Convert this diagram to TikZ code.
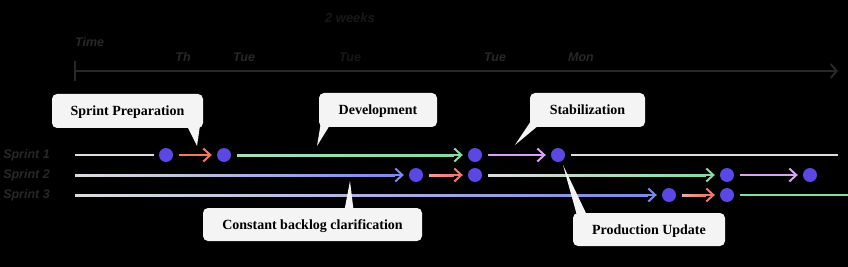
\documentclass[tikz,border=0pt]{standalone}
\usepackage{fontspec}
\setmainfont{Liberation Serif}
\newfontfamily\labelfont{Liberation Sans}
\usetikzlibrary{arrows.meta,calc}
\definecolor{dotc}{HTML}{5B48E4}
\definecolor{redc}{HTML}{F2796A}
\definecolor{greenc}{HTML}{86DBA2}
\definecolor{lilacc}{HTML}{D9A2F2}
\definecolor{bluec}{HTML}{7A8AE8}
\definecolor{grayc}{HTML}{DDDDDD}
\definecolor{boxc}{HTML}{F4F4F4}
\definecolor{dimc}{HTML}{282828}
\definecolor{darkc}{HTML}{181818}
\tikzset{
  dot/.style={circle, fill=dotc, minimum size=14pt, inner sep=0pt},
  seg/.style={line width=2pt, shorten <=6pt, shorten >=5pt},
  segarr/.style={seg, -{Straight Barb[length=7pt,width=13pt]}},
  callout/.style={fill=boxc, rounded corners=5pt, inner sep=0pt, text=black,
    text height=10pt, text depth=1pt,
    font=\bfseries\fontsize{14}{16}\selectfont},
  tail/.style={fill=boxc},
  lab/.style={text=dimc, inner sep=0pt, font=\labelfont\bfseries\itshape\fontsize{12.5}{14}\selectfont},
}
\begin{document}
\begin{tikzpicture}[x=1pt,y=-1pt]
\useasboundingbox (0,0) rectangle (848,267);
\fill[black] (0,0) rectangle (848,267);

% axis and labels
\coordinate (ax0) at (75,71);
\coordinate (ax1) at (838,71);
\coordinate (tk0) at (75,61);
\coordinate (tk1) at (75,81);
\draw[dimc, line width=2pt, -{Straight Barb[length=6pt,width=14pt]}] (ax0) -- (ax1);
\draw[dimc, line width=2pt] (tk0) -- (tk1);
\node[lab, text=darkc, font=\labelfont\bfseries\itshape\fontsize{13}{15}\selectfont] (weeks) at (350,18) {2 weeks};
\node[lab, anchor=west] (time) at (75,42) {Time};
\node[lab] (th) at (183,57) {Th};
\node[lab] (tue1) at (244,57) {Tue};
\node[lab, text=darkc] (tue2) at (350,57) {Tue};
\node[lab] (tue3) at (495,57) {Tue};
\node[lab] (mon) at (581,57) {Mon};

\node[lab, anchor=east] (sp1) at (50,155) {Sprint 1};
\node[lab, anchor=east] (sp2) at (50,175) {Sprint 2};
\node[lab, anchor=east] (sp3) at (50,195) {Sprint 3};

% dots
\node[dot] (d11) at (166,155) {};
\node[dot] (d12) at (224,155) {};
\node[dot] (d13) at (475,155) {};
\node[dot] (d14) at (558,155) {};
\node[dot] (d21) at (416,175) {};
\node[dot] (d22) at (475,175) {};
\node[dot] (d23) at (727,175) {};
\node[dot] (d24) at (810,175) {};
\node[dot] (d31) at (669,195) {};
\node[dot] (d32) at (727,195) {};
\coordinate (s1) at (75,155);
\coordinate (e1) at (838,155);
\coordinate (s2) at (75,175);
\coordinate (s3) at (75,195);
\coordinate (e3) at (848,195);

% Sprint 1
\draw[seg, grayc, shorten <=0pt] (s1) -- (d11);
\draw[segarr, redc] (d11) -- (d12);
\draw[segarr, greenc] (d12) -- (d13);
\shade[left color=greenc!55!grayc, right color=greenc] ($(d12.east)+(6,-1)$) rectangle ($(d13.west)+(-14,1)$);
\draw[segarr, lilacc] (d13) -- (d14);
\draw[seg, grayc, shorten >=0pt] (d14) -- (e1);

% Sprint 2
\draw[segarr, bluec, shorten <=0pt] (s2) -- (d21);
\shade[left color=grayc, right color=bluec] ($(s2)+(0,-1)$) rectangle ($(d21.west)+(-14,1)$);
\draw[segarr, redc] (d21) -- (d22);
\shade[left color=redc!60!grayc, right color=redc] ($(d21.east)+(6,-1)$) rectangle ($(d22.west)+(-14,1)$);
\draw[segarr, greenc] (d22) -- (d23);
\shade[left color=grayc, right color=greenc] ($(d22.east)+(6,-1)$) rectangle ($(d23.west)+(-14,1)$);
\draw[segarr, lilacc] (d23) -- (d24);

% Sprint 3
\draw[segarr, bluec, shorten <=0pt] (s3) -- (d31);
\shade[left color=grayc, right color=bluec] ($(s3)+(0,-1)$) rectangle ($(d31.west)+(-14,1)$);
\draw[segarr, redc] (d31) -- (d32);
\shade[left color=redc!50!grayc, right color=redc] ($(d31.east)+(6,-1)$) rectangle ($(d32.west)+(-14,1)$);
\draw[seg, greenc, shorten >=0pt] (d32) -- (e3);

% callouts
\node[callout, minimum width=151pt, minimum height=34pt] (prep) at (127.5,111) {Sprint Preparation};
\coordinate (tp) at (197,146);
\fill[tail] ($(prep.south east)+(-16,-2)$) -- (tp) -- ($(prep.south east)+(-3,-4)$) -- cycle;

\node[callout, minimum width=118pt, minimum height=34pt] (dev) at (378,110) {Development};
\coordinate (td) at (317,146);
\fill[tail] ($(dev.south west)+(2,-4)$) -- (td) -- ($(dev.south west)+(11,-2)$) -- cycle;

\node[callout, minimum width=115pt, minimum height=34pt] (stab) at (587.5,110) {Stabilization};
\coordinate (ts) at (515,145);
\fill[tail] ($(stab.south west)+(1,-6)$) -- (ts) -- ($(stab.south west)+(9,-2)$) -- cycle;

\node[callout, minimum width=219pt, minimum height=33pt] (back) at (312.5,224.5) {Constant backlog clarification};
\coordinate (tb) at (350,181);
\fill[tail] ($(back.north)+(32,2)$) -- (tb) -- ($(back.north)+(41,2)$) -- cycle;

\node[callout, minimum width=152pt, minimum height=33pt] (prod) at (649,229.5) {Production Update};
\coordinate (tpu) at (563,165);
\fill[tail] ($(prod.north west)+(4,2)$) -- (tpu) -- ($(prod.north west)+(14,2)$) -- cycle;
\end{tikzpicture}
\end{document}
